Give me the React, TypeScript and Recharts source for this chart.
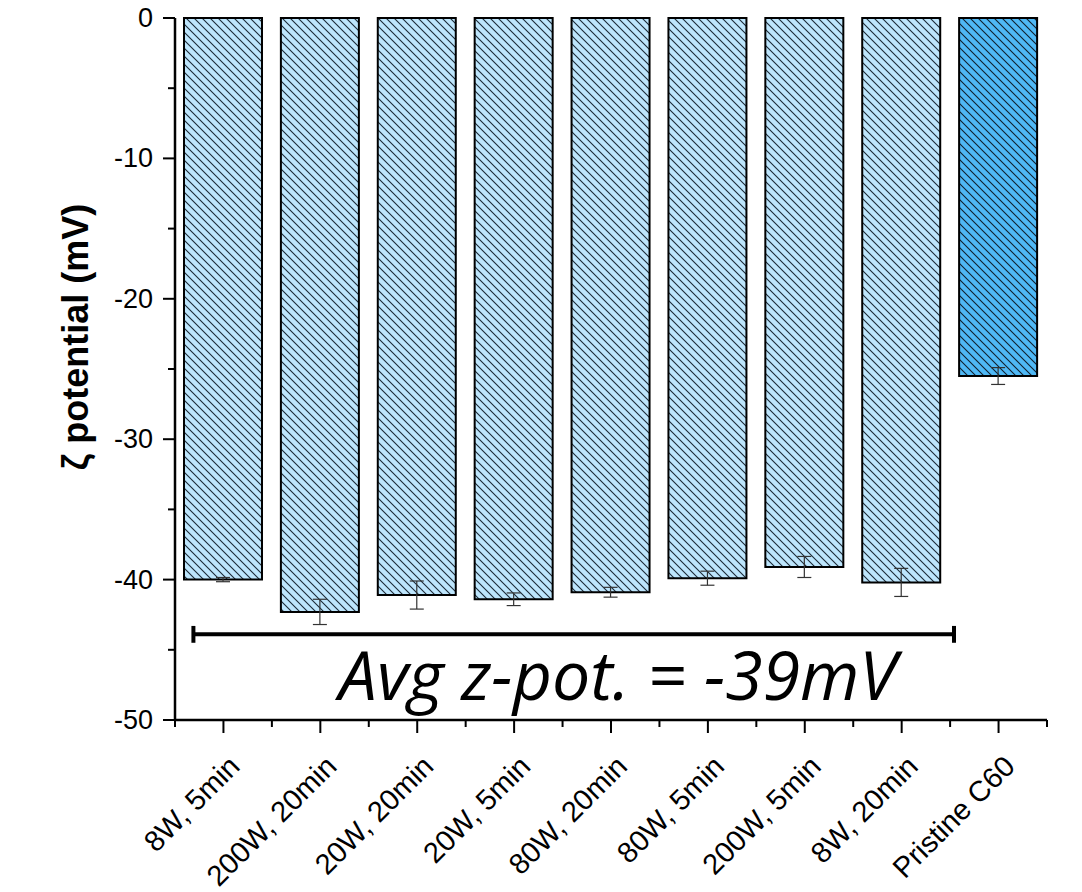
import React from "react";
import { BarChart, Bar, XAxis, YAxis, Cell, ErrorBar, ReferenceLine, ReferenceDot, Label } from "recharts";

// sample names along the x axis
const categories = [
  "8W, 5min",
  "200W, 20min",
  "20W, 20min",
  "20W, 5min",
  "80W, 20min",
  "80W, 5min",
  "200W, 5min",
  "8W, 20min",
  "Pristine C60",
];
// zeta potential (mV) and its error
const zeta = [-40.0, -42.3, -41.1, -41.4, -40.9, -39.9, -39.1, -40.2, -25.5];
const zetaErr = [0.15, 0.9, 1.0, 0.45, 0.35, 0.5, 0.75, 1.0, 0.6];
// which bars are the reference sample
const isPristine = [false, false, false, false, false, false, false, false, true];

const yTicks = [0, -5, -10, -15, -20, -25, -30, -35, -40, -45, -50];

// average bracket drawn under the treated samples (x in bar slots, 0..9)
const avgLineY = -43.9;
const avgLineFrom = 0.19;
const avgLineTo = 8.04;
const avgCap = 0.6;
const avgText = "Avg z-pot. = -39mV";
const avgTextX = 4.57;
const avgTextY = -48.6;

const data = categories.map((name, i) => ({
  name,
  slot: i,
  zeta: zeta[i],
  err: zetaErr[i],
  pristine: isPristine[i],
}));

const tickFont = "'Liberation Sans', Arial, sans-serif";

const YTick = (props: any) => {
  const { x, y, payload } = props;
  const v = payload.value;
  const major = v % 10 === 0;
  return (
    <g>
      <line x1={x} x2={x - (major ? 12 : 7)} y1={y} y2={y} stroke="#000" strokeWidth={2} />
      {major && (
        <text x={x - 22} y={y} textAnchor="end" dominantBaseline="central" fontSize={27} fontFamily={tickFont} fill="#000">
          {v}
        </text>
      )}
    </g>
  );
};

const XTick = (props: any) => {
  const { x, y, payload, index, width } = props;
  const half = (width || 872) / categories.length / 2;
  const tx = x + 18;
  const ty = y + 48;
  return (
    <g>
      <line x1={x} x2={x} y1={y} y2={y + 13} stroke="#000" strokeWidth={2} />
      <line x1={x - half} x2={x - half} y1={y} y2={y + 7} stroke="#000" strokeWidth={2} />
      {index === categories.length - 1 && (
        <line x1={x + half} x2={x + half} y1={y} y2={y + 7} stroke="#000" strokeWidth={2} />
      )}
      <text
        x={tx}
        y={ty}
        textAnchor="end"
        transform={`rotate(-45, ${tx}, ${ty})`}
        fontSize={29}
        fontFamily={tickFont}
        fill="#000"
      >
        {payload.value}
      </text>
    </g>
  );
};

const YLabel = (props: any) => {
  const { viewBox } = props;
  const cx = viewBox.x + 75;
  const cy = viewBox.y + viewBox.height / 2 - 32;
  return (
    <text
      x={cx}
      y={cy}
      textAnchor="middle"
      dominantBaseline="central"
      transform={`rotate(-90, ${cx}, ${cy})`}
      fontSize={36}
      fontWeight="bold"
      fontFamily={tickFont}
      fill="#000"
    >
      ζ potential (mV)
    </text>
  );
};

const AvgLabel = (props: any) => {
  const { viewBox } = props;
  const cx = viewBox.x + viewBox.width / 2;
  const cy = viewBox.y + viewBox.height / 2;
  return (
    <text x={cx} y={cy} textAnchor="middle" fontSize={68} fontStyle="italic" fontFamily="'Open Sans', sans-serif" fill="#000">
      {avgText}
    </text>
  );
};

export default function App() {
  return (
    <div style={{ position: "absolute", left: 0, top: 0, width: 1082, height: 892, background: "#fff" }}>
      <BarChart width={1082} height={892} data={data} margin={{ top: 18, right: 35, bottom: 0, left: 0 }}>
        <defs>
          <pattern id="hatchLight" patternUnits="userSpaceOnUse" width={8} height={8}>
            <rect width={8} height={8} fill="#BDE5FC" />
            <path d="M-1,-1 L9,9 M-1,7 L1,9 M7,-1 L9,1" stroke="#1b2a38" strokeWidth={1.1} />
          </pattern>
          <pattern id="hatchDark" patternUnits="userSpaceOnUse" width={8} height={8}>
            <rect width={8} height={8} fill="#4FB8F5" />
            <path d="M-1,-1 L9,9 M-1,7 L1,9 M7,-1 L9,1" stroke="#10202e" strokeWidth={1.1} />
          </pattern>
        </defs>
        <XAxis
          dataKey="name"
          height={172}
          interval={0}
          tickSize={0}
          tickMargin={0}
          tickLine={false}
          tick={<XTick />}
          axisLine={{ stroke: "#000", strokeWidth: 2.5 }}
        />
        <XAxis
          xAxisId="top"
          dataKey="slot"
          orientation="top"
          type="number"
          domain={[0, categories.length]}
          allowDataOverflow
          height={0}
          tick={false}
          tickLine={false}
          axisLine={{ stroke: "#000", strokeWidth: 2.5 }}
        />
        <YAxis
          width={175}
          domain={[-50, 0]}
          ticks={yTicks}
          interval={0}
          tickSize={0}
          tickMargin={0}
          tickLine={false}
          tick={<YTick />}
          axisLine={{ stroke: "#000", strokeWidth: 2.5 }}
        >
          <Label content={<YLabel />} />
        </YAxis>
        <YAxis
          yAxisId="right"
          orientation="right"
          width={0}
          domain={[-50, 0]}
          tick={false}
          tickLine={false}
          axisLine={{ stroke: "#000", strokeWidth: 2.5 }}
        />
        <Bar dataKey="zeta" barSize={78} stroke="#000" strokeWidth={2} isAnimationActive={false}>
          {data.map((d, i) => (
            <Cell key={i} fill={d.pristine ? "url(#hatchDark)" : "url(#hatchLight)"} />
          ))}
          <ErrorBar dataKey="err" width={7} stroke="#333" strokeWidth={1.2} direction="y" isAnimationActive={false} />
        </Bar>
        <ReferenceLine
          xAxisId="top"
          ifOverflow="visible"
          segment={[
            { x: avgLineFrom, y: avgLineY },
            { x: avgLineTo, y: avgLineY },
          ]}
          stroke="#000"
          strokeWidth={4}
        />
        <ReferenceLine
          xAxisId="top"
          ifOverflow="visible"
          segment={[
            { x: avgLineFrom, y: avgLineY - avgCap },
            { x: avgLineFrom, y: avgLineY + avgCap },
          ]}
          stroke="#000"
          strokeWidth={4}
        />
        <ReferenceLine
          xAxisId="top"
          ifOverflow="visible"
          segment={[
            { x: avgLineTo, y: avgLineY - avgCap },
            { x: avgLineTo, y: avgLineY + avgCap },
          ]}
          stroke="#000"
          strokeWidth={4}
        />
        <ReferenceDot
          xAxisId="top"
          ifOverflow="visible"
          x={avgTextX}
          y={avgTextY}
          r={0}
          fill="none"
          stroke="none"
          label={<AvgLabel />}
        />
      </BarChart>
    </div>
  );
}
